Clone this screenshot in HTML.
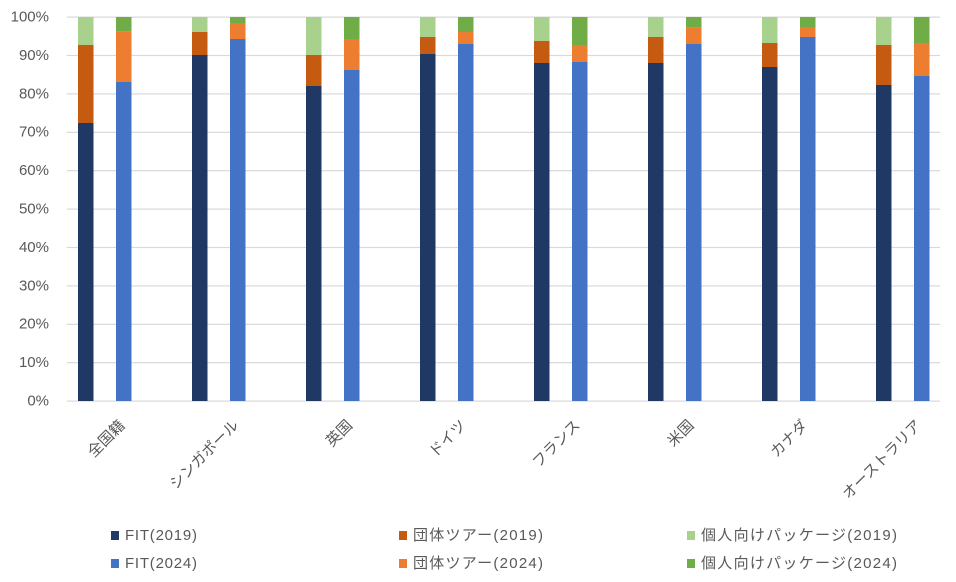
<!DOCTYPE html>
<html>
<head>
<meta charset="utf-8">
<style>
  html,body{margin:0;padding:0;background:#fff;}
  svg{display:block;}
  text{font-family:"Liberation Sans","Noto Sans CJK JP",sans-serif;fill:#595959;}
</style>
</head>
<body>
<svg width="956" height="582" viewBox="0 0 956 582" xmlns="http://www.w3.org/2000/svg">
  <rect x="0" y="0" width="956" height="582" fill="#fff"/>
  <!-- gridlines -->
  <g fill="#D9D9D9">
    <rect x="66.7" y="16.5" width="873.3" height="1.2"/>
    <rect x="66.7" y="54.9" width="873.3" height="1.2"/>
    <rect x="66.7" y="93.3" width="873.3" height="1.2"/>
    <rect x="66.7" y="131.7" width="873.3" height="1.2"/>
    <rect x="66.7" y="170.1" width="873.3" height="1.2"/>
    <rect x="66.7" y="208.5" width="873.3" height="1.2"/>
    <rect x="66.7" y="246.9" width="873.3" height="1.2"/>
    <rect x="66.7" y="285.3" width="873.3" height="1.2"/>
    <rect x="66.7" y="323.7" width="873.3" height="1.2"/>
    <rect x="66.7" y="362.1" width="873.3" height="1.2"/>
    <rect x="66.7" y="400.5" width="873.3" height="1.2"/>
  </g>
  <!-- y labels -->
  <g font-size="15" text-anchor="end" dominant-baseline="central">
    <text x="49" y="17">100%</text>
    <text x="49" y="55.4">90%</text>
    <text x="49" y="93.8">80%</text>
    <text x="49" y="132.2">70%</text>
    <text x="49" y="170.6">60%</text>
    <text x="49" y="209">50%</text>
    <text x="49" y="247.4">40%</text>
    <text x="49" y="285.8">30%</text>
    <text x="49" y="324.2">20%</text>
    <text x="49" y="362.6">10%</text>
    <text x="49" y="401">0%</text>
  </g>
  <!-- bars -->
  <g>
    <!-- 全国籍 -->
    <rect x="78" y="17" width="15.5" height="28" fill="#A9D18E"/>
    <rect x="78" y="45" width="15.5" height="78" fill="#C55A11"/>
    <rect x="78" y="123" width="15.5" height="278" fill="#203864"/>
    <rect x="116" y="17" width="15.5" height="14.7" fill="#70AD47"/>
    <rect x="116" y="31.7" width="15.5" height="50" fill="#ED7D31"/>
    <rect x="116" y="81.7" width="15.5" height="319.3" fill="#4472C4"/>
    <!-- シンガポール -->
    <rect x="192" y="17" width="15.5" height="15" fill="#A9D18E"/>
    <rect x="192" y="32" width="15.5" height="23" fill="#C55A11"/>
    <rect x="192" y="55" width="15.5" height="346" fill="#203864"/>
    <rect x="230" y="17" width="15.5" height="6" fill="#70AD47"/>
    <rect x="230" y="23" width="15.5" height="16" fill="#ED7D31"/>
    <rect x="230" y="39" width="15.5" height="362" fill="#4472C4"/>
    <!-- 英国 -->
    <rect x="306" y="17" width="15.5" height="38" fill="#A9D18E"/>
    <rect x="306" y="55" width="15.5" height="31" fill="#C55A11"/>
    <rect x="306" y="86" width="15.5" height="315" fill="#203864"/>
    <rect x="344" y="17" width="15.5" height="22" fill="#70AD47"/>
    <rect x="344" y="39" width="15.5" height="31" fill="#ED7D31"/>
    <rect x="344" y="70" width="15.5" height="331" fill="#4472C4"/>
    <!-- ドイツ -->
    <rect x="420" y="17" width="15.5" height="20" fill="#A9D18E"/>
    <rect x="420" y="37" width="15.5" height="17" fill="#C55A11"/>
    <rect x="420" y="54" width="15.5" height="347" fill="#203864"/>
    <rect x="458" y="17" width="15.5" height="15" fill="#70AD47"/>
    <rect x="458" y="32" width="15.5" height="12" fill="#ED7D31"/>
    <rect x="458" y="44" width="15.5" height="357" fill="#4472C4"/>
    <!-- フランス -->
    <rect x="534" y="17" width="15.5" height="24" fill="#A9D18E"/>
    <rect x="534" y="41" width="15.5" height="22" fill="#C55A11"/>
    <rect x="534" y="63" width="15.5" height="338" fill="#203864"/>
    <rect x="572" y="17" width="15.5" height="28" fill="#70AD47"/>
    <rect x="572" y="45" width="15.5" height="17" fill="#ED7D31"/>
    <rect x="572" y="62" width="15.5" height="339" fill="#4472C4"/>
    <!-- 米国 -->
    <rect x="648" y="17" width="15.5" height="20" fill="#A9D18E"/>
    <rect x="648" y="37" width="15.5" height="26" fill="#C55A11"/>
    <rect x="648" y="63" width="15.5" height="338" fill="#203864"/>
    <rect x="686" y="17" width="15.5" height="10.7" fill="#70AD47"/>
    <rect x="686" y="27.7" width="15.5" height="16.3" fill="#ED7D31"/>
    <rect x="686" y="44" width="15.5" height="357" fill="#4472C4"/>
    <!-- カナダ -->
    <rect x="762" y="17" width="15.5" height="26" fill="#A9D18E"/>
    <rect x="762" y="43" width="15.5" height="24" fill="#C55A11"/>
    <rect x="762" y="67" width="15.5" height="334" fill="#203864"/>
    <rect x="800" y="17" width="15.5" height="10" fill="#70AD47"/>
    <rect x="800" y="27" width="15.5" height="10" fill="#ED7D31"/>
    <rect x="800" y="37" width="15.5" height="364" fill="#4472C4"/>
    <!-- オーストラリア -->
    <rect x="876" y="17" width="15.5" height="28" fill="#A9D18E"/>
    <rect x="876" y="45" width="15.5" height="40" fill="#C55A11"/>
    <rect x="876" y="85" width="15.5" height="316" fill="#203864"/>
    <rect x="914" y="17" width="15.5" height="26" fill="#70AD47"/>
    <rect x="914" y="43" width="15.5" height="33" fill="#ED7D31"/>
    <rect x="914" y="76" width="15.5" height="325" fill="#4472C4"/>
  </g>
  <!-- category labels -->
  <g font-size="15" text-anchor="end" dominant-baseline="central">
    <text transform="translate(122.5,423) rotate(-45)">全国籍</text>
    <text transform="translate(236.3,423) rotate(-45)">シンガポール</text>
    <text transform="translate(350.1,423) rotate(-45)">英国</text>
    <text transform="translate(463.9,423) rotate(-45)">ドイツ</text>
    <text transform="translate(577.7,423) rotate(-45)">フランス</text>
    <text transform="translate(691.5,423) rotate(-45)">米国</text>
    <text transform="translate(805.3,423) rotate(-45)">カナダ</text>
    <text transform="translate(919.1,423) rotate(-45)">オーストラリア</text>
  </g>
  <!-- legend -->
  <g>
    <rect x="111" y="531" width="8" height="9" fill="#203864"/>
    <rect x="399" y="531" width="8" height="9" fill="#C55A11"/>
    <rect x="687" y="531" width="8" height="9" fill="#A9D18E"/>
    <rect x="111" y="559" width="8" height="9" fill="#4472C4"/>
    <rect x="399" y="559" width="8" height="9" fill="#ED7D31"/>
    <rect x="687" y="559" width="8" height="9" fill="#70AD47"/>
  </g>
  <g font-size="15" dominant-baseline="central">
    <text x="125" y="535.5" textLength="72" lengthAdjust="spacing">FIT(2019)</text>
    <text x="413" y="535.5" textLength="130" lengthAdjust="spacing">団体ツアー(2019)</text>
    <text x="701" y="535.5" textLength="196" lengthAdjust="spacing">個人向けパッケージ(2019)</text>
    <text x="125" y="563.5" textLength="72" lengthAdjust="spacing">FIT(2024)</text>
    <text x="413" y="563.5" textLength="130" lengthAdjust="spacing">団体ツアー(2024)</text>
    <text x="701" y="563.5" textLength="196" lengthAdjust="spacing">個人向けパッケージ(2024)</text>
  </g>
</svg>
</body>
</html>
